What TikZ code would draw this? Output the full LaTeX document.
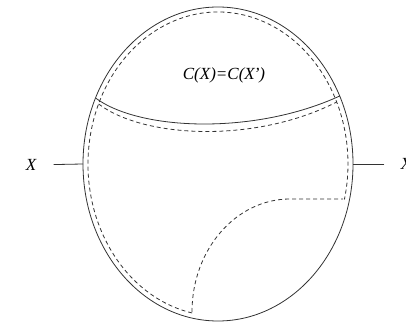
\documentclass[tikz,border=0pt]{standalone}
\usepackage{fontspec}
\setmainfont{Liberation Serif}
\usetikzlibrary{shapes.geometric}
\begin{document}
\begin{tikzpicture}[
                x=1pt, y=1pt,
                every node/.style={font=\fontsize{17}{20}\selectfont\itshape},
                rim/.style={draw=black!80, line width=0.8pt},
                inner/.style={draw=black!80, line width=0.8pt, dash pattern=on 4pt off 3pt}
                ]
                \useasboundingbox (0,0) rectangle (406,323);
                % the ball and its two ends
                \node[rim, ellipse, inner sep=0pt, outer sep=0pt,
                      minimum width=270pt, minimum height=314pt] (ball) at (218,159) {};
                \node (xl) at (31,158) {X};
                \node (xr) at (406,159) {X};
                \draw[rim, shorten <=14pt] (xl) -- (ball.west);
                \draw[rim, shorten <=13pt] (xr) -- (ball.east);
                % cap
                \draw[rim] (95.5,225) .. controls (140,192) and (255,188) .. (339.7,227);
                \node (cx) at (224,248) {C(X)=C(X\kern-1pt')};
                % dashed copies inside
                \draw[inner] (ball.center) ++(258.5:130 and 152)
                    arc[start angle=258.5, end angle=-13.5, x radius=130, y radius=152];
                \draw[inner] (98.6,219) .. controls (145,184) and (257,180) .. (336.7,221);
                \draw[inner] (192,11) arc[start angle=180, end angle=90, x radius=98, y radius=113]
                    -- (343,124);
\end{tikzpicture}
\end{document}
